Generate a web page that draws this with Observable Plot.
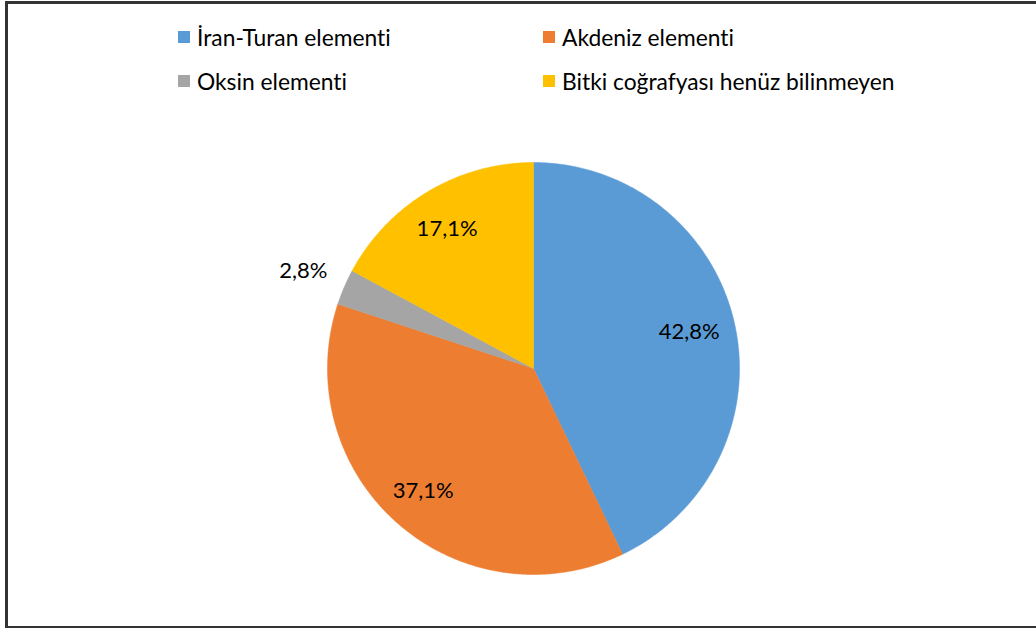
<!DOCTYPE html>
<html>
<head>
<meta charset="utf-8">
<script src="https://cdn.jsdelivr.net/npm/d3@7"></script>
<script src="https://cdn.jsdelivr.net/npm/@observablehq/plot@0.6"></script>
<style>
  html, body { margin: 0; padding: 0; background: #fff; }
  #wrap { position: relative; width: 1036px; height: 628px; overflow: hidden; font-family: Lato, "Open Sans", sans-serif; color: #000; font-variant-ligatures: none; }
  #frame { position: absolute; left: 5px; top: 1px; width: 1040px; height: 622px; border-left: 3px solid #333; border-top: 3px solid #333; border-bottom: 3px solid #333; box-sizing: content-box; }
  #legend { position: absolute; left: 0; top: 0; width: 1036px; height: 110px; }
  .item { position: absolute; display: flex; align-items: center; font-size: 22.8px; white-space: nowrap; }
  .sw { width: 12px; height: 12px; margin-right: 7px; }
  #chart { position: absolute; left: 0; top: 110px; }
  #chart svg text { font-variant-ligatures: none; }
</style>
</head>
<body>
<div id="wrap">
  <div id="frame"></div>
  <div id="legend"></div>
  <div id="chart"></div>
</div>
<script>
const categories = ["İran-Turan elementi", "Akdeniz elementi", "Oksin elementi", "Bitki coğrafyası henüz bilinmeyen"];
const shares = [42.8, 37.1, 2.8, 17.1];
const labels = ["42,8%", "37,1%", "2,8%", "17,1%"];
const colors = ["#5b9bd5", "#ed7d31", "#a5a5a5", "#ffc000"];

const data = categories.map((c, i) => ({name: c, value: shares[i], label: labels[i]}));
const total = d3.sum(shares);
const pie = d3.pie().value(d => d.value).sort(null)(data);

// polygon points for each slice (angles: 0 at top, clockwise)
const pts = [];
pie.forEach(p => {
  const n = Math.max(4, Math.ceil((p.endAngle - p.startAngle) / 0.01));
  pts.push({name: p.data.name, x: 0, y: 0});
  for (let k = 0; k <= n; k++) {
    const a = p.startAngle + (p.endAngle - p.startAngle) * k / n;
    pts.push({name: p.data.name, x: Math.sin(a), y: Math.cos(a)});
  }
  pts.push({name: p.data.name, x: 0, y: 0});
});
const labs = pie.map(p => {
  const a = (p.startAngle + p.endAngle) / 2;
  const r = p.data.value / total < 0.05 ? 1.2 : 0.79;
  return {label: p.data.label, x: r * Math.sin(a), y: r * Math.cos(a)};
});

// legend
const legendPos = [[178, 38], [543, 38], [178, 82], [543, 82]];
const leg = document.getElementById("legend");
categories.forEach((c, i) => {
  const el = document.createElement("div");
  el.className = "item";
  el.style.left = legendPos[i][0] + "px";
  el.style.top = (legendPos[i][1] - 15) + "px";
  el.innerHTML = `<span class="sw" style="background:${colors[i]}"></span><span>${c}</span>`;
  leg.appendChild(el);
});

const cx = 533, cy = 368 - 110, R = 206;
const plot = Plot.plot({
  width: 1036,
  height: 510,
  margin: 0,
  x: {domain: [-1, 1], range: [cx - R, cx + R], axis: null},
  y: {domain: [-1, 1], range: [cy + R, cy - R], axis: null},
  color: {domain: categories, range: colors},
  style: {background: "transparent", fontFamily: "Lato, 'Open Sans', sans-serif"},
  marks: [
    Plot.line(pts, {x: "x", y: "y", z: "name", fill: "name", stroke: "name", strokeWidth: 0.5, curve: "linear"}),
    Plot.text(labs, {x: "x", y: "y", text: "label", fontSize: 22, fill: "#000", dx: -3})
  ]
});
document.getElementById("chart").appendChild(plot);
</script>
</body>
</html>
